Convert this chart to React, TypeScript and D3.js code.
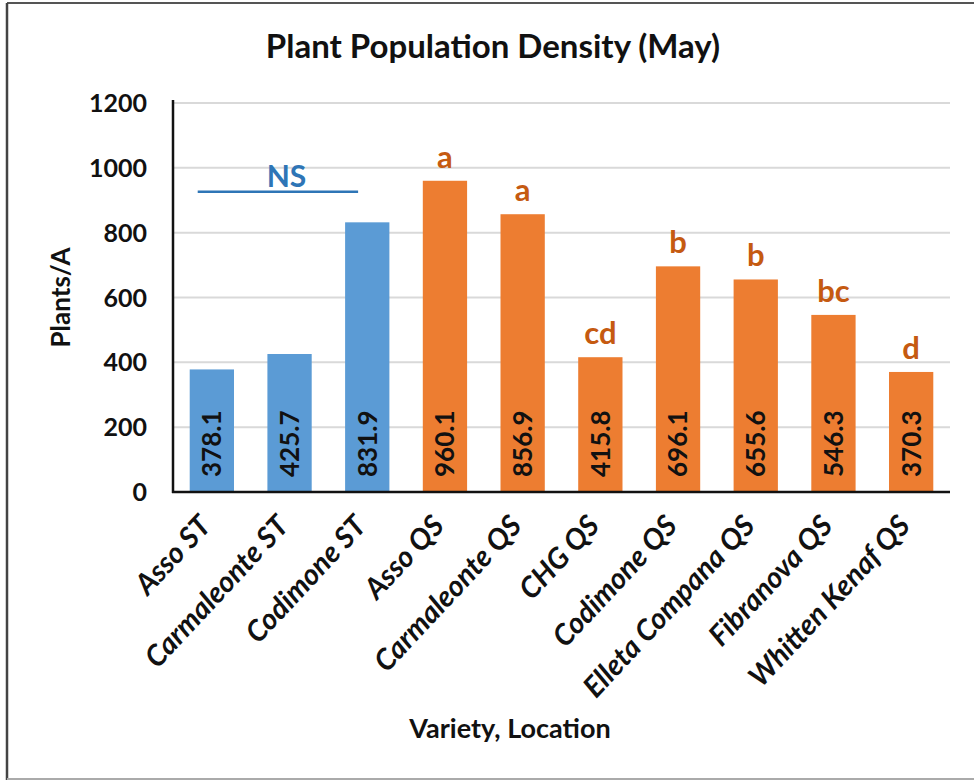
import * as React from 'react';
import * as d3 from 'd3';

const varieties = ['Asso ST', 'Carmaleonte ST', 'Codimone ST', 'Asso QS', 'Carmaleonte QS', 'CHG QS', 'Codimone QS', 'Elleta Compana QS', 'Fibranova QS', 'Whitten Kenaf QS'];
const plants = [378.1, 425.7, 831.9, 960.1, 856.9, 415.8, 696.1, 655.6, 546.3, 370.3];
const locations = ['ST', 'ST', 'ST', 'QS', 'QS', 'QS', 'QS', 'QS', 'QS', 'QS'];
const letters = ['', '', '', 'a', 'a', 'cd', 'b', 'b', 'bc', 'd'];
const yTicks = [0, 200, 400, 600, 800, 1000, 1200];
const nsLevel = 926;

const W = 974;
const H = 780;
const font = 'Lato, "Open Sans", sans-serif';

const App: React.FC = () => {
    const x = d3.scaleBand<string>().domain(varieties).range([173, 950]).paddingInner(0.43).paddingOuter(0.215);
    const y = d3.scaleLinear().domain([0, 1200]).range([492, 103]);
    const colour = (loc: string) => (loc === 'ST' ? '#5b9bd5' : '#ed7d31');
    const cx = (v: string) => (x(v) as number) + x.bandwidth() / 2;

    return (
        <div style={{ position: 'absolute', left: 0, top: 0 }}>
            <svg width={W} height={H} style={{ display: 'block', background: '#fff' }} fontFamily={font}>
                {/* frame */}
                <line x1={7} x2={974} y1={3} y2={3} stroke="#555" strokeWidth={2} />
                <line x1={7} x2={7} y1={3} y2={780} stroke="#444" strokeWidth={2.5} />
                <line x1={7} x2={974} y1={779} y2={779} stroke="#aaa" strokeWidth={2} />

                <text x={493} y={58} textAnchor="middle" fontSize={33} fontWeight={700} fill="#111">
                    Plant Population Density (May)
                </text>

                {/* grid */}
                {yTicks.filter(t => t > 0).map(t => (
                    <line key={t} x1={173} x2={950} y1={y(t)} y2={y(t)} stroke="#d9d9d9" strokeWidth={2} />
                ))}
                {yTicks.map(t => (
                    <text key={t} x={147} y={y(t)} dy="0.36em" textAnchor="end" fontSize={25} fontWeight={700} fill="#111">
                        {t}
                    </text>
                ))}

                <text transform={`translate(70,${y(600)}) rotate(-90)`} textAnchor="middle" fontSize={26} fontWeight={700} fill="#111">
                    Plants/A
                </text>

                {/* bars */}
                {varieties.map((v, i) => (
                    <rect key={v} x={x(v)} y={y(plants[i])} width={x.bandwidth()} height={y(0) - y(plants[i])} fill={colour(locations[i])} />
                ))}
                {varieties.map((v, i) => (
                    <text key={v} transform={`translate(${cx(v)},${y(0) - 15}) rotate(-90)`}
                        dy="0.36em" fontSize={26} fontWeight={700} fill="#111">
                        {plants[i].toFixed(1)}
                    </text>
                ))}
                {varieties.map((v, i) => letters[i] ? (
                    <text key={v} x={cx(v)} y={y(plants[i]) - 13} textAnchor="middle"
                        fontSize={31} fontWeight={700} fill="#c55a11">
                        {letters[i]}
                    </text>
                ) : null)}

                {/* NS bracket over ST */}
                <line x1={(x(varieties[0]) as number) + 8} x2={(x(varieties[2]) as number) + 13} y1={y(nsLevel)} y2={y(nsLevel)} stroke="#2e75b6" strokeWidth={2.5} />
                <text x={cx(varieties[1]) - 3} y={y(nsLevel) - 5} textAnchor="middle"
                    fontSize={30} fontWeight={700} fill="#2e75b6">
                    NS
                </text>

                {/* axes */}
                <line x1={173} x2={173} y1={100} y2={493} stroke="#111" strokeWidth={2.5} />
                <line x1={172} x2={950} y1={492} y2={492} stroke="#111" strokeWidth={2.5} />

                {varieties.map(v => (
                    <text key={v} transform={`translate(${cx(v) - 7},${520}) rotate(-47)`}
                        textAnchor="end" dy="0.36em" fontSize={29} fontWeight={700} fontStyle="italic" fill="#111">
                        {v}
                    </text>
                ))}

                <text x={510} y={738} textAnchor="middle" fontSize={27} fontWeight={700} fill="#111">
                    Variety, Location
                </text>
            </svg>
        </div>
    );
};

export default App;
